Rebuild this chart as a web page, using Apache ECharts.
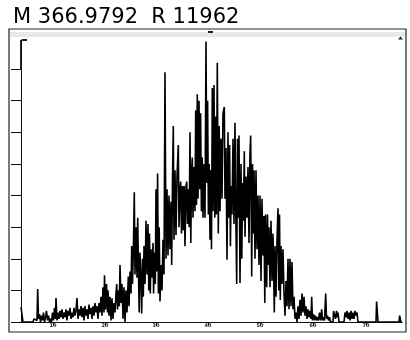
<!DOCTYPE html>
<html>
<head>
<meta charset="utf-8">
<script src="https://cdn.jsdelivr.net/npm/echarts@6/dist/echarts.min.js"></script>
<style>
  html, body { margin: 0; padding: 0; background: #fff; }
  #chart { width: 410px; height: 340px; }
</style>
</head>
<body>
<div id="chart"></div>
<script>
// title of the trace
var titleText = 'M 366.9792  R 11962';

// scan positions of the x ticks and their labels
var xTickScans = [53, 105, 156, 208, 260, 313, 366];
var xTickLabels = ['10', '20', '30', '40', '50', '60', '70'];

// y ticks (intensity units)
var yTicks = [0, 1, 2, 3, 4, 5, 6, 7, 8];

// trace: [scan, intensity]
var traceLeft = [
    [21, 0.47], [22.3, 0.45], [23, 0], [33, 0], [34, 0.1], [35, 0.05], [36, 0.15], [37, 0.05],
    [37.7, 1.04], [38.5, 0.1], [39.5, 0.25], [40.5, 0], [41.5, 0.2], [42.5, 0.05], [43.5, 0.3],
    [44.5, 0], [45.5, 0.15], [46.5, 0.35], [47.5, 0.05], [48.5, 0.2], [49.5, 0], [50.5, 0.1],
    [51.5, 0], [52.5, 0.3], [53.5, 0.05], [54.5, 0.45], [55.5, 0.1], [56, 0.76], [57, 0.05],
    [58, 0.3], [59, 0.1], [60, 0.35], [61, 0.15], [62, 0.4], [63, 0.1], [64, 0.3], [65, 0.15],
    [66, 0.4], [67, 0.05], [68, 0.35], [69, 0.2], [70, 0.45], [71, 0.1], [72, 0.3], [73, 0.15],
    [74, 0.45], [75, 0.2], [76, 0.35], [77, 0.76], [78, 0.1], [79, 0.4], [80, 0.2], [81, 0.5],
    [82, 0.15], [83, 0.45], [84, 0.05], [85, 0.5], [86, 0.2], [87, 0.4], [88, 0.1], [89, 0.55],
    [90, 0.25], [91, 0.45], [92, 0.1], [93, 0.5], [94, 0.2], [95, 0.6], [96, 0.3], [97, 0.5],
    [98, 0.1], [99, 0.6], [100, 0.3]
];
var traceRise = [
    [101, 0.8], [102, 0.2], [103, 1.1], [104, 0.3], [104.5, 1.48], [105.5, 0.4], [106.5, 1.2],
    [107.5, 0.3], [108, 1.0], [109, 0.2], [110, 0.8], [111, 0.05], [112, 0.75], [113, 0.1],
    [114, 0.6], [115, 0.3], [116, 0.9], [116.7, 1.2], [117.5, 0.4], [118.5, 1.0], [119.3, 0.5],
    [120, 1.8], [121, 0.6], [122, 1.2], [123, 0.1], [124, 1.1], [125, 0.0], [126, 1.0],
    [127, 0.3], [128.3, 1.44], [129, 0.5], [130, 1.6], [131, 0.9], [131.7, 2.4], [132.5, 1.2],
    [133.3, 2.2], [134.3, 4.1], [135, 1.5], [136, 3.0], [137, 1.4], [137.7, 3.3], [138.5, 1.6],
    [139.2, 0.3], [140, 2.2], [141, 1.3], [141.7, 0.27], [142.5, 2.0], [143.3, 0.8], [144, 2.4],
    [145, 1.2], [146, 3.2], [147, 1.5], [148, 3.1], [148.8, 1.0], [149.5, 2.8], [150.3, 0.9],
    [151, 2.3], [152, 1.4], [153, 2.5], [153.6, 0.9], [154.5, 2.2], [155.3, 1.2], [156, 4.2],
    [156.8, 1.6], [157.6, 4.7], [158.4, 0.9], [159.2, 3.0], [160, 0.65], [161, 1.8], [162, 1.0],
    [163, 2.6], [164, 1.5]
];
var tracePeak = [
    [165, 7.9], [166, 2.0], [167, 4.2], [168, 2.1], [169, 4.0], [170, 2.3], [171, 3.8],
    [171.7, 1.8], [172.5, 4.5], [173.3, 6.2], [174, 2.6], [175, 4.8], [176, 2.75], [177, 4.6],
    [178.3, 5.6], [179, 3.0], [180, 4.2], [180.7, 4.44], [181.5, 2.8], [182.5, 4.3], [183.3, 2.9],
    [184.2, 4.3], [185, 2.4], [186, 4.3], [186.7, 4.44], [187.5, 3.1], [188.5, 4.2], [189.2, 3.0],
    [190, 6.0], [190.8, 2.5], [191.6, 4.8], [192.3, 5.2], [193, 3.3], [194, 4.9], [195, 3.5],
    [195.7, 6.7], [196.5, 3.7], [197.3, 7.2], [198, 3.9], [199, 7.0], [199.8, 4.2], [200.6, 6.6],
    [201.4, 3.5], [202.2, 5.2], [203, 3.3], [204, 5.0], [205, 3.3], [206, 8.87], [206.8, 4.4],
    [207.6, 7.0], [208.4, 3.4], [209.2, 5.0], [210, 2.6], [210.7, 4.8], [211.5, 2.3], [212.3, 7.4],
    [213, 3.5], [214, 7.5], [214.8, 3.3], [215.6, 6.5], [216.4, 3.4], [217.3, 8.2], [218.3, 2.8],
    [219.2, 6.2], [220, 3.5]
];
var traceFall = [
    [221, 5.8], [222, 3.9], [223, 6.6], [224.3, 6.8], [225, 3.9], [226, 5.5], [227, 1.97],
    [228, 6.0], [228.8, 3.3], [229.6, 5.6], [230.4, 2.4], [231.2, 4.3], [232, 3.4], [233, 5.8],
    [234, 3.1], [235, 6.3], [235.8, 3.4], [236.7, 1.2], [237.5, 5.8], [238.3, 3.3], [239, 5.9],
    [240, 1.23], [241, 5.0], [241.8, 2.0], [242.6, 4.4], [243.4, 3.2], [244.3, 5.4], [245, 2.7],
    [246, 4.6], [247, 3.3], [248, 4.9], [249, 2.5], [250, 5.4], [250.7, 5.9], [251.7, 1.44],
    [252.5, 5.0], [253.3, 2.8], [254, 4.8], [255, 2.0], [256, 4.8], [257, 2.3], [258, 4.0],
    [259, 1.8], [260, 4.0], [261, 1.3], [262, 3.9], [263, 2.1], [264, 3.35], [264.8, 0.6],
    [265.6, 3.4], [266.7, 1.1], [267.5, 3.4], [268.3, 1.8], [269, 3.0], [270, 1.1], [271, 3.2],
    [272, 1.3], [273, 2.8], [274.3, 0.3], [275, 2.4], [276, 0.8], [277, 2.6], [278, 3.6],
    [278.8, 1.0], [279.5, 3.4], [280.3, 0.7], [281, 2.4], [282, 1.2], [283, 2.3], [284, 0.9],
    [285, 0.2], [286, 1.3], [287, 0.5], [288, 2.0], [289, 0.4], [290, 2.0], [291, 0.5],
    [292, 1.9], [293, 0.4], [294, 0.8], [295, 0.1], [296, 0.3], [297, 0]
];
var traceTail = [
    [298, 0.5], [299, 0.1], [300, 0.7], [301, 0.2], [302, 0.9], [303, 0.3], [304, 0.8],
    [305, 0.2], [306, 0.5], [307, 0.1], [308, 0.4], [309, 0.15], [310, 0.35], [311, 0.1],
    [311.7, 0.8], [312.5, 0.05], [313.5, 0.25], [314.5, 0.05], [315.5, 0.2], [316.5, 0.05],
    [317.5, 0.15], [318.5, 0.05], [319.5, 0.3], [320.5, 0.05], [321.7, 0.4], [322.5, 0.05],
    [323.5, 0.15], [324.5, 0.05], [325.7, 0.9], [326.5, 0.1], [327.5, 0.2], [328.5, 0.05],
    [329.5, 0.15], [330.5, 0], [333, 0], [333.5, 0.35], [335, 0.3], [335.5, 0.1], [336.5, 0.35],
    [337.5, 0.15], [338, 0.3], [339, 0], [344, 0], [345, 0.3], [346, 0.15], [347, 0.35],
    [348, 0.1], [349, 0.3], [350, 0.05], [351, 0.35], [352, 0.1], [353, 0.3], [354, 0.1],
    [355, 0.35], [356, 0.2], [357, 0.3], [358, 0], [376, 0], [376.6, 0.65], [377.4, 0.6],
    [378, 0], [399, 0], [399.6, 0.2], [400.4, 0.2], [401, 0], [402, 0]
];

var trace = traceLeft.concat(traceRise, tracePeak, traceFall, traceTail);

var chart = echarts.init(document.getElementById('chart'), null, { renderer: 'canvas' });

chart.setOption({
    backgroundColor: '#fff',
    animation: false,
    title: {
        text: titleText,
        left: 8,
        top: 2,
        textStyle: {
            fontFamily: 'DejaVu Sans',
            fontSize: 21,
            fontWeight: 'normal',
            color: '#000'
        }
    },
    grid: {
        left: 21,
        right: 8,
        top: 40,
        bottom: 18
    },
    xAxis: {
        type: 'value',
        min: 21,
        max: 402,
        axisLine: { show: true, lineStyle: { color: '#111', width: 1.2 } },
        axisTick: {
            show: true,
            customValues: xTickScans,
            length: 4,
            lineStyle: { color: '#111', width: 1 }
        },
        axisLabel: {
            show: true,
            customValues: xTickScans,
            formatter: function(v) {
                var i = xTickScans.indexOf(v);
                return i >= 0 ? xTickLabels[i] : '';
            },
            margin: 1,
            fontSize: 5,
            fontWeight: 'bold',
            fontFamily: 'DejaVu Sans',
            color: '#222'
        },
        splitLine: { show: false }
    },
    yAxis: {
        type: 'value',
        min: 0,
        max: 8.92,
        axisLine: { show: true, lineStyle: { color: '#111', width: 1 } },
        axisTick: {
            show: true,
            customValues: yTicks,
            length: 10,
            lineStyle: { color: '#111', width: 1 }
        },
        axisLabel: { show: false },
        splitLine: { show: false }
    },
    series: [{
        type: 'line',
        data: trace,
        symbol: 'none',
        smooth: false,
        lineStyle: { color: '#000', width: 1.6 },
        z: 3
    }],
    graphic: [
        {
            type: 'rect',
            shape: { x: 9, y: 29, width: 397, height: 303 },
            style: { fill: 'none', stroke: '#222', lineWidth: 1.2 },
            silent: true
        },
        {
            type: 'rect',
            shape: { x: 10, y: 32, width: 395, height: 5 },
            style: { fill: '#e9e9e9' },
            silent: true
        },
        {
            type: 'line',
            shape: { x1: 21, y1: 40, x2: 21, y2: 70 },
            style: { stroke: '#111', lineWidth: 1.8 },
            silent: true
        },
        {
            type: 'rect',
            shape: { x: 22, y: 39, width: 5, height: 2 },
            style: { fill: '#222' },
            silent: true
        },
        {
            type: 'rect',
            shape: { x: 208, y: 31, width: 5, height: 2 },
            style: { fill: '#222' },
            silent: true
        },
        {
            type: 'polygon',
            shape: { points: [[398, 39.5], [403, 39.5], [400.5, 36.5]] },
            style: { fill: '#222' },
            silent: true
        }
    ]
});
</script>
</body>
</html>
